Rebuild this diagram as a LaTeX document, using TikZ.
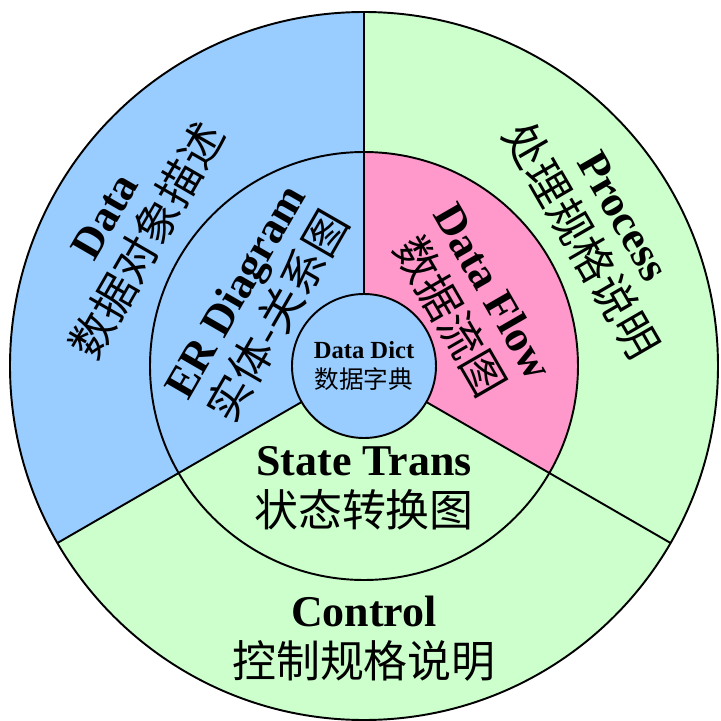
\documentclass[tikz,border=0pt]{standalone}
\usepackage{fontspec}
\setmainfont{Liberation Serif}
\newfontfamily\cjk{Noto Sans CJK SC}
\usepackage{xcolor}
\definecolor{dblue}{HTML}{99CCFF}
\definecolor{dgreen}{HTML}{CCFFCC}
\definecolor{dpink}{HTML}{FF99CC}

\begin{document}
\begin{tikzpicture}[
  ring/.style={line width=1.1pt},
  lbl/.style={align=center,font=\fontsize{25}{29}\selectfont},
  small/.style={align=center,font=\fontsize{14}{17}\selectfont}]
  \useasboundingbox (-7.28,-7.10) rectangle (7.14,7.32);
  % outer ring
  \fill[dblue] (0,0) -- (90:7.08) arc[start angle=90,end angle=210,radius=7.08] -- cycle;
  \fill[dgreen] (0,0) -- (210:7.08) arc[start angle=210,end angle=450,radius=7.08] -- cycle;
  % middle ring
  \fill[dblue] (0,0) -- (90:4.28) arc[start angle=90,end angle=210,radius=4.28] -- cycle;
  \fill[dgreen] (0,0) -- (210:4.28) arc[start angle=210,end angle=330,radius=4.28] -- cycle;
  \fill[dpink] (0,0) -- (330:4.28) arc[start angle=330,end angle=450,radius=4.28] -- cycle;
  % centre
  \fill[dblue] (0,0) circle (1.44);
  \draw[ring] (0,0) circle (7.08) (0,0) circle (4.28) (0,0) circle (1.44);
  \draw[ring] (90:1.44) -- (90:7.08) (210:1.44) -- (210:7.08)
    (330:1.44) -- (330:7.08);

  \path (150:5.45) node (data) [lbl,rotate=60] {\bfseries Data\\{\cjk 数据对象描述}};
  \path (30:5.45) node (proc) [lbl,rotate=-60] {\bfseries Process\\{\cjk 处理规格说明}};
  \path (270:5.45) node (ctrl) [lbl] {\bfseries Control\\{\cjk 控制规格说明}};
  \path (150:2.45) node (er) [lbl,rotate=60] {\bfseries ER Diagram\\{\cjk 实体-关系图}};
  \path (30:2.45) node (flow) [lbl,rotate=-60] {\bfseries Data Flow\\{\cjk 数据流图}};
  \path (270:2.45) node (state) [lbl] {\bfseries State Trans\\{\cjk 状态转换图}};
  \path (0,0) node (dict) [small] {\bfseries Data Dict\\{\cjk 数据字典}};
\end{tikzpicture}
\end{document}
